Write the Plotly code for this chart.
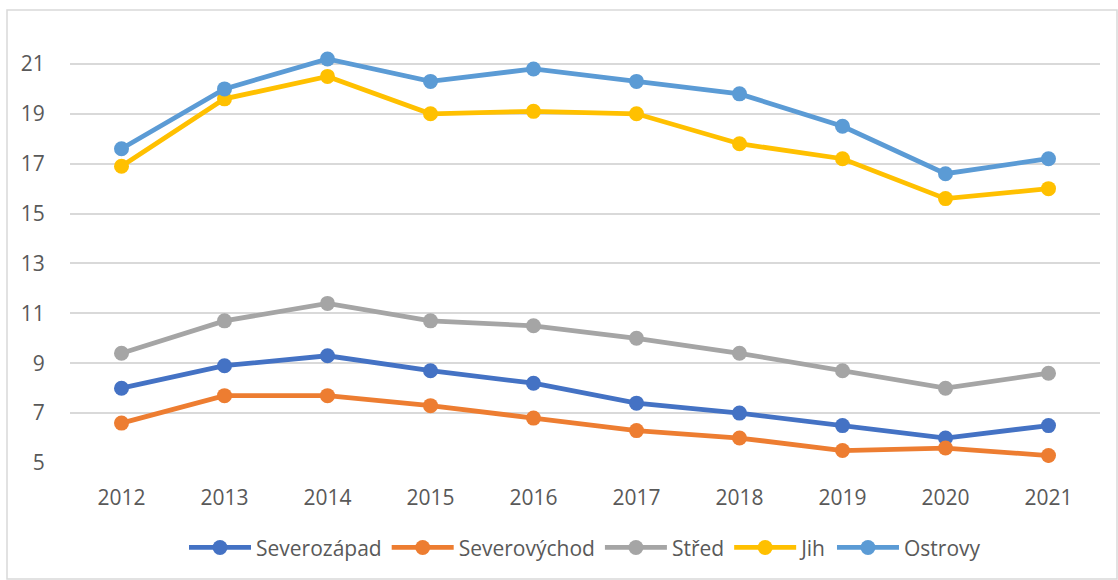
import plotly.graph_objects as go

years = ["2012", "2013", "2014", "2015", "2016", "2017", "2018", "2019", "2020", "2021"]
severozapad = [8.0, 8.9, 9.3, 8.7, 8.2, 7.4, 7.0, 6.5, 6.0, 6.5]
severovychod = [6.6, 7.7, 7.7, 7.3, 6.8, 6.3, 6.0, 5.5, 5.6, 5.3]
stred = [9.4, 10.7, 11.4, 10.7, 10.5, 10.0, 9.4, 8.7, 8.0, 8.6]
jih = [16.9, 19.6, 20.5, 19.0, 19.1, 19.0, 17.8, 17.2, 15.6, 16.0]
ostrovy = [17.6, 20.0, 21.2, 20.3, 20.8, 20.3, 19.8, 18.5, 16.6, 17.2]
y_ticks = [5, 7, 9, 11, 13, 15, 17, 19, 21]

series = [
    ("Severozápad", severozapad, "#4472C4"),
    ("Severovýchod", severovychod, "#ED7D31"),
    ("Střed", stred, "#A5A5A5"),
    ("Jih", jih, "#FFC000"),
    ("Ostrovy", ostrovy, "#5B9BD5"),
]

fig = go.Figure()
for name, vals, color in series:
    fig.add_trace(go.Scatter(
        x=years, y=vals, name=name, mode="lines+markers",
        line=dict(color=color, width=4.8),
        marker=dict(color=color, size=15),
    ))

font_family = "Open Sans, Liberation Sans, sans-serif"

fig.update_layout(
    width=1118, height=580,
    margin=dict(l=70, r=18, t=39, b=117),
    paper_bgcolor="white", plot_bgcolor="white",
    font=dict(family=font_family, size=21, color="#595959"),
    showlegend=True,
    legend=dict(orientation="h", x=0.5, xanchor="center", y=-0.2, yanchor="middle",
                font=dict(size=21, color="#595959"), itemwidth=62, tracegroupgap=0,
                traceorder="normal"),
    xaxis=dict(type="category", range=[-0.5, 9.5], showgrid=False, zeroline=False,
               showline=False, ticks="outside", ticklen=16, tickcolor="rgba(0,0,0,0)",
               automargin=False,
               tickfont=dict(size=21, color="#595959")),
    yaxis=dict(range=[5, 22], tickvals=y_ticks, showgrid=True, gridcolor="#D9D9D9",
               gridwidth=1.5, zeroline=False, showline=False, ticks="outside",
               ticklen=20, tickcolor="rgba(0,0,0,0)", automargin=False,
               tickfont=dict(size=21, color="#595959")),
    shapes=[dict(type="rect", xref="paper", yref="paper",
                 x0=(7 - 70) / 1030, x1=(1117 - 70) / 1030,
                 y0=(463 - 579) / 424, y1=(463 - 10) / 424,
                 line=dict(color="#D9D9D9", width=1.5), layer="below")],
)

fig.write_html("out.html", config={"displayModeBar": False},
               post_script="document.body.style.margin='0';document.body.style.overflow='hidden';")
